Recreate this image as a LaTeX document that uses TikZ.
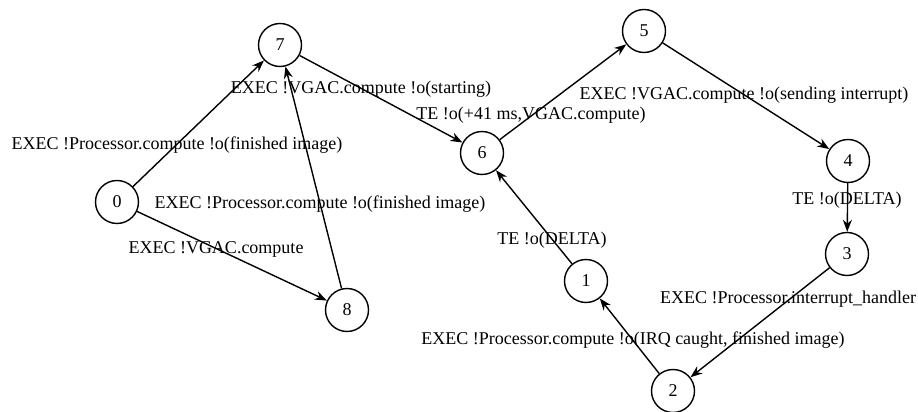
\documentclass[tikz,border=0pt]{standalone}
\usepackage{fontspec}
\setmainfont{Liberation Serif}
\usetikzlibrary{arrows.meta}
\begin{document}
\begin{tikzpicture}[x=1pt,y=1pt,
  state/.style={circle,draw,line width=1.4pt,minimum size=43pt,inner sep=0pt,font=\fontsize{18}{20}\selectfont},
  edge/.style={-{Stealth[length=12pt,width=9pt]},line width=1.4pt},
  lbl/.style={font=\fontsize{18}{20}\selectfont,inner sep=0pt}]
\useasboundingbox (0,0) rectangle (918,412);
% states
\node[state] (n0) at (117,210) {0};
\node[state] (n7) at (280,367) {7};
\node[state] (n8) at (347,102) {8};
\node[state] (n6) at (482,259) {6};
\node[state] (n5) at (644,381) {5};
\node[state] (n4) at (848,251) {4};
\node[state] (n3) at (847,158) {3};
\node[state] (n1) at (586,131) {1};
\node[state] (n2) at (673,21) {2};
% transitions
\draw[edge] (n0) -- (n7);
\draw[edge] (n0) -- (n8);
\draw[edge] (n8) -- (n7);
\draw[edge] (n7) -- (n6);
\draw[edge] (n6) -- (n5);
\draw[edge] (n5) -- (n4);
\draw[edge] (n4) -- (n3);
\draw[edge] (n3) -- (n2);
\draw[edge] (n2) -- (n1);
\draw[edge] (n1) -- (n6);
% transition labels
\node[lbl] (l07) at (177,267) {EXEC !Processor.compute !o(finished image)};
\node[lbl] (l76) at (361,323) {EXEC !VGAC.compute !o(starting)};
\node[lbl] (l65) at (531,297) {TE !o(+41 ms,VGAC.compute)};
\node[lbl] (l54) at (744,317) {EXEC !VGAC.compute !o(sending interrupt)};
\node[lbl] (l43) at (847,212) {TE !o(DELTA)};
\node[lbl] (l32) at (788,113) {EXEC !Processor.interrupt\_handler};
\node[lbl] (l21) at (633,72) {EXEC !Processor.compute !o(IRQ caught, finished image)};
\node[lbl] (l16) at (552,172) {TE !o(DELTA)};
\node[lbl] (l87) at (320,208) {EXEC !Processor.compute !o(finished image)};
\node[lbl] (l08) at (216,163) {EXEC !VGAC.compute};
\end{tikzpicture}
\end{document}
